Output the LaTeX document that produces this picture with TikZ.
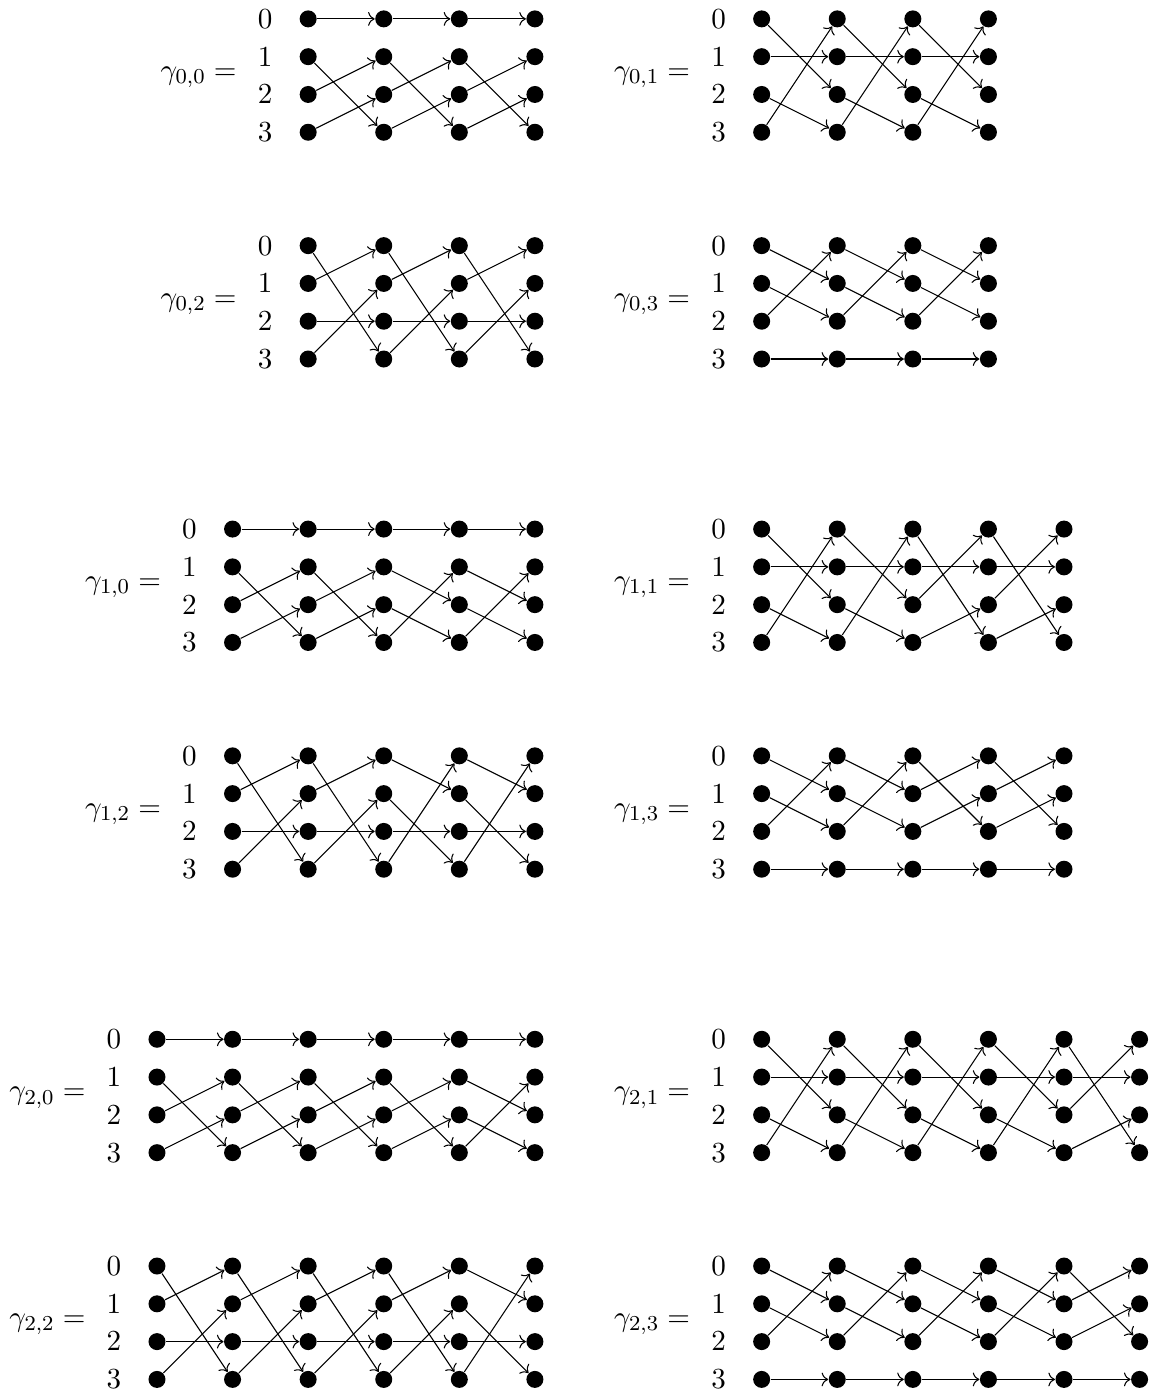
\documentclass[tikz,border=0pt]{standalone}
\usepackage{amsfonts,amssymb,amsmath}
\usepackage{tikz}
\usetikzlibrary{arrows.meta}

\tikzset{vtx/.style={circle,fill,inner sep=0pt,minimum size=6.4pt}}

% #1 name, (#2,#3) first dot, #4 label, #5 last column, #6 steps
\newcommand{\walk}[6]{%
\node[anchor=base east,inner sep=0pt] (#1-lab) at (#2-0.94,#3-0.80) {$#4 =$};
\foreach \r in {0,...,3}{
  \node[inner sep=0pt] (#1-row\r) at (#2-0.57,#3-0.5*\r) {$\r$};
  \foreach \c in {0,...,#5}
    \node[vtx] (#1-\c-\r) at (#2+\c,#3-0.5*\r) {};
}
\foreach \s [count=\k from 0] in {#6}{
  \pgfmathtruncatemacro\kk{\k+1}
  \foreach \t [count=\r from 0] in \s
    \draw[->] (#1-\k-\r) -- (#1-\kk-\t);
}}

\begin{document}
\begin{tikzpicture}[font=\fontsize{10.95}{13}\selectfont]
\useasboundingbox (-2.077,0.25) rectangle (13.19,-18.18);
\walk{g00}{2}{0}{\gamma_{0,0}}{3}{{0,3,1,2},{0,3,1,2},{0,3,1,2}}
\walk{g01}{8}{0}{\gamma_{0,1}}{3}{{2,1,3,0},{2,1,3,0},{2,1,3,0}}
\walk{g02}{2}{-3}{\gamma_{0,2}}{3}{{3,0,2,1},{3,0,2,1},{3,0,2,1}}
\walk{g03}{8}{-3}{\gamma_{0,3}}{3}{{1,2,0,3},{1,2,0,3},{1,2,0,3}}
\walk{g10}{1}{-6.75}{\gamma_{1,0}}{4}{{0,3,1,2},{0,3,1,2},{0,2,3,1},{0,2,3,1}}
\walk{g11}{8}{-6.75}{\gamma_{1,1}}{4}{{2,1,3,0},{2,1,3,0},{3,1,0,2},{3,1,0,2}}
\walk{g12}{1}{-9.75}{\gamma_{1,2}}{4}{{3,0,2,1},{3,0,2,1},{1,3,2,0},{1,3,2,0}}
\walk{g13}{8}{-9.75}{\gamma_{1,3}}{4}{{1,2,0,3},{1,2,0,3},{2,0,1,3},{2,0,1,3}}
\walk{g20}{0}{-13.5}{\gamma_{2,0}}{5}{{0,3,1,2},{0,3,1,2},{0,3,1,2},{0,3,1,2},{0,2,3,1}}
\walk{g21}{8}{-13.5}{\gamma_{2,1}}{5}{{2,1,3,0},{2,1,3,0},{2,1,3,0},{2,1,3,0},{3,1,0,2}}
\walk{g22}{0}{-16.5}{\gamma_{2,2}}{5}{{3,0,2,1},{3,0,2,1},{3,0,2,1},{3,0,2,1},{1,3,2,0}}
\walk{g23}{8}{-16.5}{\gamma_{2,3}}{5}{{1,2,0,3},{1,2,0,3},{1,2,0,3},{1,2,0,3},{2,0,1,3}}
\end{tikzpicture}
\end{document}
